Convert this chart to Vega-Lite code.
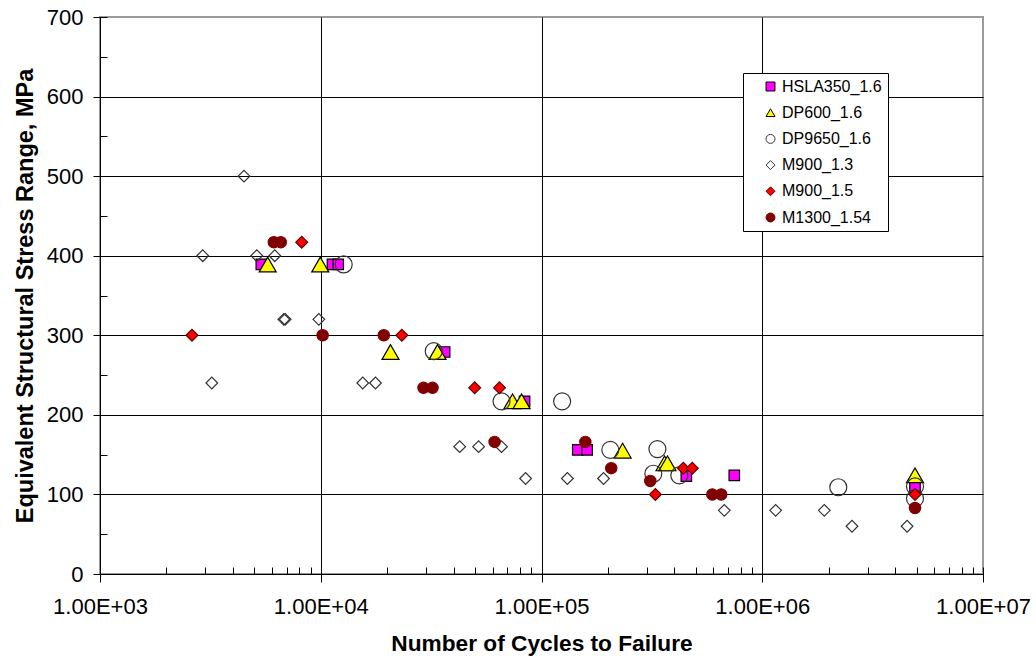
{
  "$schema": "https://vega.github.io/schema/vega-lite/v6.json",
  "width": 883,
  "height": 557,
  "autosize": {"type": "none"},
  "padding": {"left": 100, "top": 17, "right": 53, "bottom": 85},
  "background": "white",
  "config": {
    "font": "Liberation Sans",
    "view": {"stroke": "#9a9a9a", "strokeWidth": 2},
    "legend": {
      "orient": "none", "legendX": 643, "legendY": 56,
      "padding": 5.5, "strokeColor": "black", "fillColor": "white",
      "labelFontSize": 16, "labelColor": "black", "labelOffset": 3.5,
      "symbolSize": 80, "symbolOffset": 14, "symbolStrokeWidth": 1,
      "rowPadding": 10.2
    }
  },
  "data": {
    "values": [
      {"series": "HSLA350_1.6", "cycles": 5380, "stress": 389},
      {"series": "HSLA350_1.6", "cycles": 11300, "stress": 389},
      {"series": "HSLA350_1.6", "cycles": 12000, "stress": 389},
      {"series": "HSLA350_1.6", "cycles": 36400, "stress": 279},
      {"series": "HSLA350_1.6", "cycles": 83800, "stress": 217},
      {"series": "HSLA350_1.6", "cycles": 146000, "stress": 156},
      {"series": "HSLA350_1.6", "cycles": 161000, "stress": 156},
      {"series": "HSLA350_1.6", "cycles": 453000, "stress": 123},
      {"series": "HSLA350_1.6", "cycles": 747000, "stress": 124},
      {"series": "HSLA350_1.6", "cycles": 4920000, "stress": 109},

      {"series": "DP600_1.6", "cycles": 5750, "stress": 389},
      {"series": "DP600_1.6", "cycles": 9950, "stress": 389},
      {"series": "DP600_1.6", "cycles": 20700, "stress": 279},
      {"series": "DP600_1.6", "cycles": 33800, "stress": 279},
      {"series": "DP600_1.6", "cycles": 73900, "stress": 217},
      {"series": "DP600_1.6", "cycles": 81200, "stress": 217},
      {"series": "DP600_1.6", "cycles": 233000, "stress": 155},
      {"series": "DP600_1.6", "cycles": 361000, "stress": 139},
      {"series": "DP600_1.6", "cycles": 372000, "stress": 139},
      {"series": "DP600_1.6", "cycles": 4920000, "stress": 124},

      {"series": "DP9650_1.6", "cycles": 12700, "stress": 389},
      {"series": "DP9650_1.6", "cycles": 32500, "stress": 280},
      {"series": "DP9650_1.6", "cycles": 65900, "stress": 217},
      {"series": "DP9650_1.6", "cycles": 124000, "stress": 217},
      {"series": "DP9650_1.6", "cycles": 205000, "stress": 156},
      {"series": "DP9650_1.6", "cycles": 335000, "stress": 157},
      {"series": "DP9650_1.6", "cycles": 321000, "stress": 126},
      {"series": "DP9650_1.6", "cycles": 421000, "stress": 124},
      {"series": "DP9650_1.6", "cycles": 2210000, "stress": 109},
      {"series": "DP9650_1.6", "cycles": 4920000, "stress": 110},
      {"series": "DP9650_1.6", "cycles": 4920000, "stress": 95},

      {"series": "M900_1.3", "cycles": 4490, "stress": 500},
      {"series": "M900_1.3", "cycles": 2920, "stress": 400},
      {"series": "M900_1.3", "cycles": 5130, "stress": 400},
      {"series": "M900_1.3", "cycles": 6190, "stress": 400},
      {"series": "M900_1.3", "cycles": 6800, "stress": 320},
      {"series": "M900_1.3", "cycles": 6900, "stress": 320},
      {"series": "M900_1.3", "cycles": 9800, "stress": 320},
      {"series": "M900_1.3", "cycles": 3210, "stress": 240},
      {"series": "M900_1.3", "cycles": 15500, "stress": 240},
      {"series": "M900_1.3", "cycles": 17700, "stress": 240},
      {"series": "M900_1.3", "cycles": 42600, "stress": 160},
      {"series": "M900_1.3", "cycles": 51900, "stress": 160},
      {"series": "M900_1.3", "cycles": 65900, "stress": 160},
      {"series": "M900_1.3", "cycles": 84700, "stress": 120},
      {"series": "M900_1.3", "cycles": 131000, "stress": 120},
      {"series": "M900_1.3", "cycles": 191000, "stress": 120},
      {"series": "M900_1.3", "cycles": 673000, "stress": 80},
      {"series": "M900_1.3", "cycles": 1150000, "stress": 80},
      {"series": "M900_1.3", "cycles": 1910000, "stress": 80},
      {"series": "M900_1.3", "cycles": 2550000, "stress": 60},
      {"series": "M900_1.3", "cycles": 4530000, "stress": 60},

      {"series": "M900_1.5", "cycles": 2610, "stress": 300},
      {"series": "M900_1.5", "cycles": 8200, "stress": 417},
      {"series": "M900_1.5", "cycles": 23300, "stress": 300},
      {"series": "M900_1.5", "cycles": 49800, "stress": 234},
      {"series": "M900_1.5", "cycles": 64500, "stress": 234},
      {"series": "M900_1.5", "cycles": 328000, "stress": 100},
      {"series": "M900_1.5", "cycles": 439000, "stress": 133},
      {"series": "M900_1.5", "cycles": 482000, "stress": 133},
      {"series": "M900_1.5", "cycles": 4920000, "stress": 100},

      {"series": "M1300_1.54", "cycles": 6130, "stress": 417},
      {"series": "M1300_1.54", "cycles": 6590, "stress": 417},
      {"series": "M1300_1.54", "cycles": 10200, "stress": 300},
      {"series": "M1300_1.54", "cycles": 19300, "stress": 300},
      {"series": "M1300_1.54", "cycles": 29200, "stress": 234},
      {"series": "M1300_1.54", "cycles": 32100, "stress": 234},
      {"series": "M1300_1.54", "cycles": 61300, "stress": 166},
      {"series": "M1300_1.54", "cycles": 158000, "stress": 166},
      {"series": "M1300_1.54", "cycles": 207000, "stress": 133},
      {"series": "M1300_1.54", "cycles": 311000, "stress": 117},
      {"series": "M1300_1.54", "cycles": 594000, "stress": 100},
      {"series": "M1300_1.54", "cycles": 652000, "stress": 100},
      {"series": "M1300_1.54", "cycles": 4920000, "stress": 83}
    ]
  },
  "layer": [
    {
      "mark": {"type": "point", "opacity": 0},
      "encoding": {
        "x": {
          "field": "cycles", "type": "quantitative",
          "scale": {"type": "log", "domain": [1000, 10000000], "nice": false},
          "axis": {
            "orient": "bottom", "offset": -7, "tickSize": 7, "tickColor": "black", "tickWidth": 1,
            "values": [1000, 2000, 3000, 4000, 5000, 6000, 7000, 8000, 9000,
                       10000, 20000, 30000, 40000, 50000, 60000, 70000, 80000, 90000,
                       100000, 200000, 300000, 400000, 500000, 600000, 700000, 800000, 900000,
                       1000000, 2000000, 3000000, 4000000, 5000000, 6000000, 7000000, 8000000, 9000000, 10000000],
            "labels": false, "domain": false, "grid": false, "title": null
          }
        },
        "y": {
          "field": "stress", "type": "quantitative",
          "scale": {"domain": [0, 700], "nice": false},
          "axis": {
            "orient": "left", "offset": -7, "tickSize": 7, "tickColor": "black", "tickWidth": 1,
            "values": [0, 50, 100, 150, 200, 250, 300, 350, 400, 450, 500, 550, 600, 650, 700],
            "labels": false, "domain": false, "grid": false, "title": null
          }
        }
      }
    },
    {
      "mark": {"type": "point", "filled": false, "strokeWidth": 1.2, "opacity": 1},
      "encoding": {
        "x": {
          "field": "cycles", "type": "quantitative",
          "scale": {"type": "log", "domain": [1000, 10000000], "nice": false},
          "axis": {
            "orient": "bottom",
            "values": [1000, 10000, 100000, 1000000, 10000000],
            "labelExpr": "'1.00E+0' + round(log(datum.value) / LN10)",
            "labelFontSize": 22, "labelColor": "black", "labelPadding": 14,
            "labelFlush": false, "labelOverlap": false,
            "tickSize": 8, "tickColor": "black", "tickWidth": 1,
            "domainColor": "black", "domainWidth": 1,
            "grid": true, "gridWidth": 1,
            "gridColor": {"condition": {"test": "datum.value >= 10000000", "value": "transparent"}, "value": "black"},
            "title": "Number of Cycles to Failure",
            "titleFontSize": 22.7, "titleFontWeight": "bold", "titleColor": "black", "titlePadding": 15
          }
        },
        "y": {
          "field": "stress", "type": "quantitative",
          "scale": {"domain": [0, 700], "nice": false},
          "axis": {
            "orient": "left",
            "values": [0, 100, 200, 300, 400, 500, 600, 700],
            "labelFontSize": 22, "labelColor": "black", "labelPadding": 10,
            "labelFlush": false, "labelOverlap": false,
            "tickSize": 7, "tickColor": "black", "tickWidth": 1,
            "domainColor": "black", "domainWidth": 1,
            "grid": true, "gridWidth": 1,
            "gridColor": {"condition": {"test": "datum.value >= 700", "value": "transparent"}, "value": "black"},
            "title": "Equivalent Structural Stress Range, MPa",
            "titleFontSize": 23.5, "titleFontWeight": "bold", "titleColor": "black", "titlePadding": 9
          }
        },
        "shape": {
          "field": "series", "type": "nominal",
          "scale": {
            "domain": ["HSLA350_1.6", "DP600_1.6", "DP9650_1.6", "M900_1.3", "M900_1.5", "M1300_1.54"],
            "range": ["square", "triangle-up", "circle", "diamond", "diamond", "circle"]
          },
          "legend": {"title": null, "labelExpr": "datum.label + '    '"}
        },
        "fill": {
          "field": "series", "type": "nominal",
          "scale": {
            "domain": ["HSLA350_1.6", "DP600_1.6", "DP9650_1.6", "M900_1.3", "M900_1.5", "M1300_1.54"],
            "range": ["#ff00ff", "#ffff00", "transparent", "transparent", "#ff0000", "#800000"]
          },
          "legend": {"title": null, "labelExpr": "datum.label + '    '"}
        },
        "stroke": {
          "field": "series", "type": "nominal",
          "scale": {
            "domain": ["HSLA350_1.6", "DP600_1.6", "DP9650_1.6", "M900_1.3", "M900_1.5", "M1300_1.54"],
            "range": ["#000000", "#000000", "#333333", "#333333", "#5a0000", "#800000"]
          },
          "legend": {"title": null, "labelExpr": "datum.label + '    '"}
        },
        "size": {
          "field": "series", "type": "nominal",
          "scale": {
            "type": "ordinal",
            "domain": ["M1300_1.54", "M900_1.5", "M900_1.3", "DP9650_1.6", "DP600_1.6", "HSLA350_1.6"],
            "range": [128, 140, 136, 289, 289, 110]
          },
          "legend": null
        }
      }
    }
  ],
  "resolve": {"axis": {"x": "independent", "y": "independent"}}
}
